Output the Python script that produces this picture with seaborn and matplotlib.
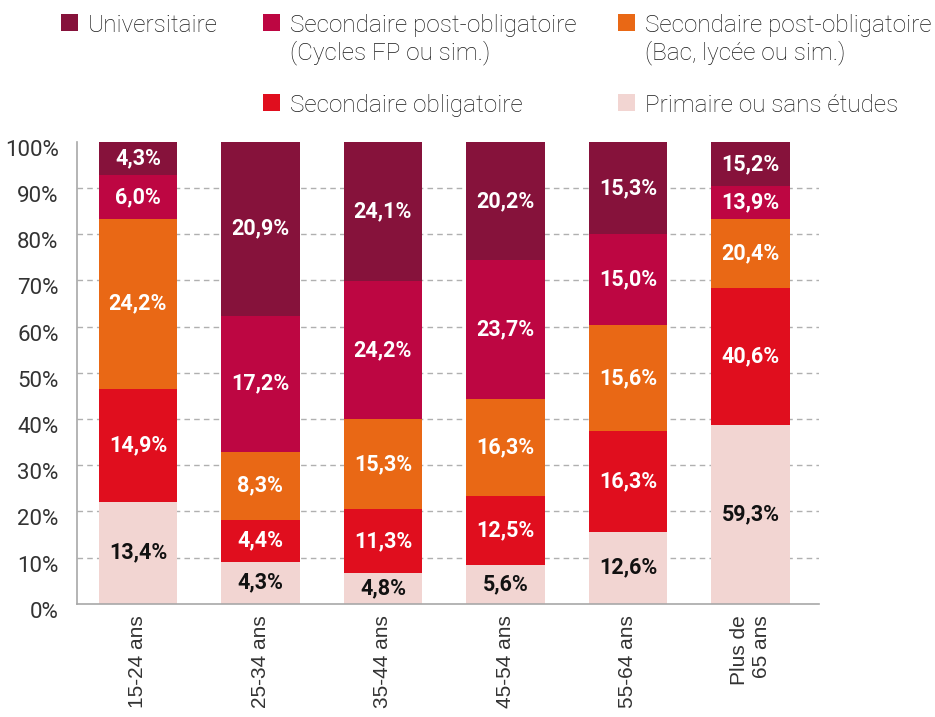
import seaborn as sns
import pandas as pd
import matplotlib.pyplot as plt
from matplotlib.patches import Rectangle
from matplotlib.transforms import ScaledTranslation

ages = ['15-24 ans', '25-34 ans', '35-44 ans', '45-54 ans', '55-64 ans', 'Plus de\n65 ans']
levels = ['Primaire ou sans études', 'Secondaire obligatoire',
          'Secondaire post-obligatoire\n(Bac, lycée ou sim.)',
          'Secondaire post-obligatoire\n(Cycles FP ou sim.)', 'Universitaire']
colors = ['#f2d5d2', '#e00e1e', '#e96815', '#bd0642', '#86123b']

# segment heights as drawn (share of the bar, %)
primaire = [22.1, 9.1, 6.7, 8.3, 15.6, 38.7]
obligatoire = [24.5, 9.1, 13.8, 15.1, 21.8, 29.7]
post_bac = [36.7, 14.7, 19.5, 20.9, 23.0, 14.9]
post_fp = [9.5, 29.5, 29.9, 30.1, 19.6, 7.1]
univ = [7.2, 37.6, 30.1, 25.6, 20.0, 9.6]

# values printed on the segments
primaire_lbl = [13.4, 4.3, 4.8, 5.6, 12.6, 59.3]
obligatoire_lbl = [14.9, 4.4, 11.3, 12.5, 16.3, 40.6]
post_bac_lbl = [24.2, 8.3, 15.3, 16.3, 15.6, 20.4]
post_fp_lbl = [6.0, 17.2, 24.2, 23.7, 15.0, 13.9]
univ_lbl = [4.3, 20.9, 24.1, 20.2, 15.3, 15.2]

heights = [primaire, obligatoire, post_bac, post_fp, univ]
labels = [primaire_lbl, obligatoire_lbl, post_bac_lbl, post_fp_lbl, univ_lbl]

rows = []
for lvl, h, lab in zip(levels, heights, labels):
    for i, age in enumerate(ages):
        rows.append({'age': age, 'pos': i, 'level': lvl, 'share': h[i], 'label': lab[i]})
df = pd.DataFrame(rows)
df['top'] = df.groupby('age', sort=False)['share'].cumsum()
df['mid'] = df['top'] - df['share'] / 2

sns.set_style('white')
plt.rcParams['font.family'] = ['Roboto', 'DejaVu Sans']

fig = plt.figure(figsize=(9.35, 7.17), dpi=100)
ax = fig.add_axes([0.082, 0.158, 0.794, 0.644])

# stacked bars: draw cumulative totals from the top layer down
for lvl, col in reversed(list(zip(levels, colors))):
    sub = df[df['level'] == lvl]
    sns.barplot(data=sub, x='age', y='top', order=ages, color=col, saturation=1,
                width=0.64, linewidth=0, ax=ax)

for _, r in df.iterrows():
    txt = ('%.1f' % r['label']).replace('.', ',') + '%'
    c = '#111111' if r['level'] == levels[0] else 'white'
    ax.text(r['pos'], r['mid'], txt, ha='center', va='center', color=c,
            fontsize=15.5, fontweight='bold')

ax.set_xlim(-0.5, 5.56)
ax.set_ylim(0, 100)
ax.set_yticks(range(0, 101, 10))
ax.set_yticklabels([f'{v}%' for v in range(0, 101, 10)])
ax.set_xlabel('')
ax.set_ylabel('')
ax.set_axisbelow(True)
ax.yaxis.grid(True, color='#b0b0b0', linestyle=(0, (4, 3)), linewidth=1)
ax.get_ygridlines()[-1].set_visible(False)
ax.get_ygridlines()[0].set_visible(False)

for s in ['top', 'right']:
    ax.spines[s].set_visible(False)
for s in ['left', 'bottom']:
    ax.spines[s].set_color('#a8a8a8')
    ax.spines[s].set_linewidth(1.2)

ax.tick_params(axis='y', length=0, pad=13, labelsize=16, labelcolor='#333333')
ax.tick_params(axis='x', length=0, pad=8, labelsize=15, labelcolor='#333333')
for t in ax.get_yticklabels():
    t.set_transform(t.get_transform() + ScaledTranslation(0, -0.06, fig.dpi_scale_trans))
for t in ax.get_xticklabels():
    t.set_rotation(90)
    t.set_family(['Liberation Sans', 'DejaVu Sans'])
    t.set_multialignment('right')

# legend, laid out like the original (3 columns, two rows)
W, H = 935, 717
legend_pos = [(61, 14.3, 4), (263, 14.3, 3), (618, 14.3, 2), (263, 94, 1), (618, 94, 0)]
for x, y, k in legend_pos:
    fig.add_artist(Rectangle((x / W, 1 - (y + 16.7) / H), 16.7 / W, 16.7 / H,
                             transform=fig.transFigure, facecolor=colors[k], edgecolor='none'))
    for j, line in enumerate(levels[k].split('\n')):
        fig.text((x + 27) / W, 1 - (y + 18 + 26.7 * j) / H, line, ha='left', va='baseline',
                 fontsize=17.5, fontweight='light', color='#1a1a1a')

fig.savefig('out.png', dpi=100)
